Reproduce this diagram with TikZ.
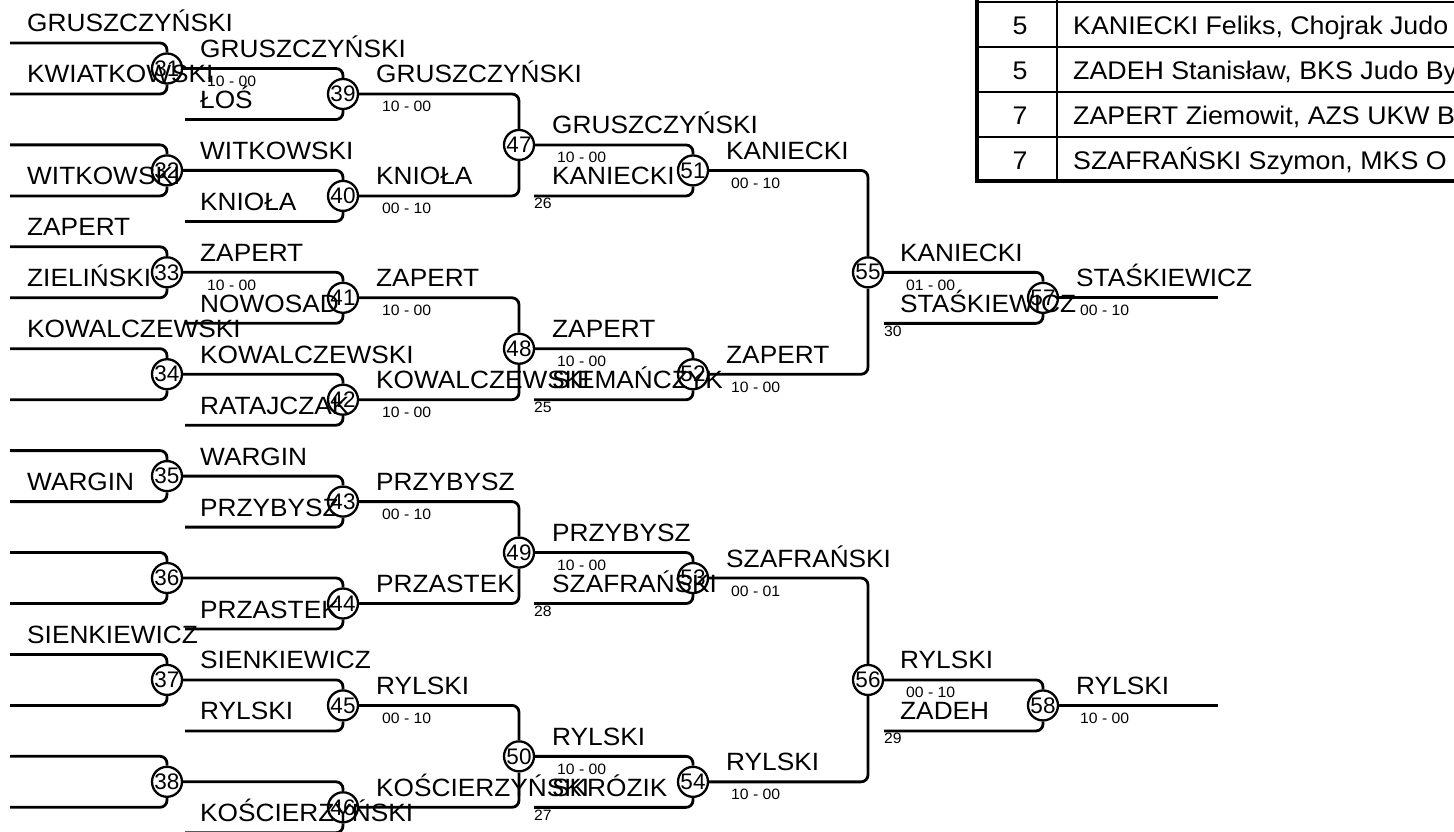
\documentclass[tikz,border=0pt]{standalone}
\usepackage{fontspec}
\newfontfamily\brFam[FakeStretch=1.05]{Liberation Sans}
\newfontfamily\brPlain{Liberation Sans}
\newcommand\brName{\brFam\fontsize{25}{30}\selectfont}
\newcommand\brScore{\brFam\fontsize{15}{18}\selectfont}
\newcommand\brNum{\brPlain\fontsize{22.5}{26}\selectfont}
\newcommand\brTab{\brFam\fontsize{25.5}{30}\selectfont}
\begin{document}
\begin{tikzpicture}[x=1pt,y=-1pt,
 br/.style={line width=2.8pt, rounded corners=7pt},
 mc/.style={circle, draw, line width=2.3pt, fill=white, minimum size=30pt, inner sep=0pt, font=\brNum},
 nm/.style={anchor=base west, inner sep=0pt, font=\brName},
 sc/.style={anchor=base west, inner sep=0pt, font=\brScore},
 tl/.style={line width=2pt},
 tb/.style={line width=4.5pt, line join=miter},
 tt/.style={anchor=base west, inner sep=0pt, font=\brTab},
 tn/.style={anchor=base, inner sep=0pt, font=\brTab}]
\useasboundingbox (0,0) rectangle (1454,832);
\fill[white] (0,0) rectangle (1454,832);

% ---------- circles ----------
\node[mc] (m31) at (167,68.5) {31};
\node[mc] (m32) at (167,170.4) {32};
\node[mc] (m33) at (167,272.3) {33};
\node[mc] (m34) at (167,374.2) {34};
\node[mc] (m35) at (167,476.1) {35};
\node[mc] (m36) at (167,578) {36};
\node[mc] (m37) at (167,679.9) {37};
\node[mc] (m38) at (167,781.8) {38};
\node[mc] (m39) at (343,94) {39};
\node[mc] (m40) at (343,195.9) {40};
\node[mc] (m41) at (343,297.8) {41};
\node[mc] (m42) at (343,399.7) {42};
\node[mc] (m43) at (343,501.6) {43};
\node[mc] (m44) at (343,603.5) {44};
\node[mc] (m45) at (343,705.4) {45};
\node[mc] (m46) at (343,807.3) {46};
\node[mc] (m47) at (519,144.95) {47};
\node[mc] (m48) at (519,348.75) {48};
\node[mc] (m49) at (519,552.55) {49};
\node[mc] (m50) at (519,756.35) {50};
\node[mc] (m51) at (693,170.45) {51};
\node[mc] (m52) at (693,374.25) {52};
\node[mc] (m53) at (693,578.05) {53};
\node[mc] (m54) at (693,781.85) {54};
\node[mc] (m55) at (868,272.35) {55};
\node[mc] (m56) at (868,679.95) {56};
\node[mc] (m57) at (1043,297.85) {57};
\node[mc] (m58) at (1043,705.45) {58};

% ---------- free line ends ----------
\coordinate (a31) at (10,43);    \coordinate (b31) at (10,94);
\coordinate (a32) at (10,144.9); \coordinate (b32) at (10,195.9);
\coordinate (a33) at (10,246.8); \coordinate (b33) at (10,297.8);
\coordinate (a34) at (10,348.7); \coordinate (b34) at (10,399.7);
\coordinate (a35) at (10,450.6); \coordinate (b35) at (10,501.6);
\coordinate (a36) at (10,552.5); \coordinate (b36) at (10,603.5);
\coordinate (a37) at (10,654.4); \coordinate (b37) at (10,705.4);
\coordinate (a38) at (10,756.3); \coordinate (b38) at (10,807.3);
\coordinate (b39) at (185,119.5);
\coordinate (b40) at (185,221.4);
\coordinate (b41) at (185,323.3);
\coordinate (b42) at (185,425.2);
\coordinate (b43) at (185,527.1);
\coordinate (b44) at (185,629);
\coordinate (b45) at (185,730.9);
\coordinate (b46) at (185,832.8);
\coordinate (b51) at (534,195.95);
\coordinate (b52) at (534,399.75);
\coordinate (b53) at (534,603.55);
\coordinate (b54) at (534,807.35);
\coordinate (b57) at (884,323.35);
\coordinate (b58) at (884,730.95);
\coordinate (f57) at (1218,297.85);
\coordinate (f58) at (1218,705.45);

% ---------- connectors ----------
\foreach \m in {31,...,38}{
  \draw[br] (a\m) -| (m\m.north);
  \draw[br] (b\m) -| (m\m.south);
}
\draw[br] (m31.east) -| (m39.north); \draw[br] (b39) -| (m39.south);
\draw[br] (m32.east) -| (m40.north); \draw[br] (b40) -| (m40.south);
\draw[br] (m33.east) -| (m41.north); \draw[br] (b41) -| (m41.south);
\draw[br] (m34.east) -| (m42.north); \draw[br] (b42) -| (m42.south);
\draw[br] (m35.east) -| (m43.north); \draw[br] (b43) -| (m43.south);
\draw[br] (m36.east) -| (m44.north); \draw[br] (b44) -| (m44.south);
\draw[br] (m37.east) -| (m45.north); \draw[br] (b45) -| (m45.south);
\draw[br] (m38.east) -| (m46.north); \draw[br] (b46) -| (m46.south);
\draw[br] (m39.east) -| (m47.north); \draw[br] (m40.east) -| (m47.south);
\draw[br] (m41.east) -| (m48.north); \draw[br] (m42.east) -| (m48.south);
\draw[br] (m43.east) -| (m49.north); \draw[br] (m44.east) -| (m49.south);
\draw[br] (m45.east) -| (m50.north); \draw[br] (m46.east) -| (m50.south);
\draw[br] (m47.east) -| (m51.north); \draw[br] (b51) -| (m51.south);
\draw[br] (m48.east) -| (m52.north); \draw[br] (b52) -| (m52.south);
\draw[br] (m49.east) -| (m53.north); \draw[br] (b53) -| (m53.south);
\draw[br] (m50.east) -| (m54.north); \draw[br] (b54) -| (m54.south);
\draw[br] (m51.east) -| (m55.north); \draw[br] (m52.east) -| (m55.south);
\draw[br] (m53.east) -| (m56.north); \draw[br] (m54.east) -| (m56.south);
\draw[br] (m55.east) -| (m57.north); \draw[br] (b57) -| (m57.south);
\draw[br] (m56.east) -| (m58.north); \draw[br] (b58) -| (m58.south);
\draw[br] (m57.east) -- (f57);
\draw[br] (m58.east) -- (f58);

% ---------- round 1 names ----------
\node[nm] (n1a) at (27,32) {GRUSZCZYŃSKI};
\node[nm] (n1b) at (27,83) {KWIATKOWSKI};
\node[nm] (n1c) at (27,184.9) {WITKOWSKI};
\node[nm] (n1d) at (27,235.8) {ZAPERT};
\node[nm] (n1e) at (27,286.8) {ZIELIŃSKI};
\node[nm] (n1f) at (27,337.7) {KOWALCZEWSKI};
\node[nm] (n1g) at (27,490.6) {WARGIN};
\node[nm] (n1h) at (27,643.4) {SIENKIEWICZ};

% ---------- round 2 names ----------
\node[nm] (n2a) at (200,57.5) {GRUSZCZYŃSKI};
\node[nm] (n2b) at (200,108.5) {ŁOŚ};
\node[nm] (n2c) at (200,159.4) {WITKOWSKI};
\node[nm] (n2d) at (200,210.4) {KNIOŁA};
\node[nm] (n2e) at (200,261.3) {ZAPERT};
\node[nm] (n2f) at (200,312.3) {NOWOSAD};
\node[nm] (n2g) at (200,363.2) {KOWALCZEWSKI};
\node[nm] (n2h) at (200,414.2) {RATAJCZAK};
\node[nm] (n2i) at (200,465.1) {WARGIN};
\node[nm] (n2j) at (200,516.1) {PRZYBYSZ};
\node[nm] (n2k) at (200,618) {PRZASTEK};
\node[nm] (n2l) at (200,668.9) {SIENKIEWICZ};
\node[nm] (n2m) at (200,719.9) {RYLSKI};
\node[nm] (n2n) at (200,821.8) {KOŚCIERZYŃSKI};
\node[sc] (s2a) at (207,86.5) {10 - 00};
\node[sc] (s2b) at (207,290.3) {10 - 00};

% ---------- round 3 names ----------
\node[nm] (n3a) at (376,83) {GRUSZCZYŃSKI};
\node[nm] (n3b) at (376,184.9) {KNIOŁA};
\node[nm] (n3c) at (376,286.8) {ZAPERT};
\node[nm] (n3d) at (376,388.7) {KOWALCZEWSKI};
\node[nm] (n3e) at (376,490.6) {PRZYBYSZ};
\node[nm] (n3f) at (376,592.5) {PRZASTEK};
\node[nm] (n3g) at (376,694.4) {RYLSKI};
\node[nm] (n3h) at (376,796.3) {KOŚCIERZYŃSKI};
\node[sc] (s3a) at (382,112) {10 - 00};
\node[sc] (s3b) at (382,213.9) {00 - 10};
\node[sc] (s3c) at (382,315.8) {10 - 00};
\node[sc] (s3d) at (382,417.7) {10 - 00};
\node[sc] (s3e) at (382,519.6) {00 - 10};
\node[sc] (s3f) at (382,723.4) {00 - 10};

% ---------- round 4 names ----------
\node[nm] (n4a) at (552,133.95) {GRUSZCZYŃSKI};
\node[nm] (n4b) at (552,184.95) {KANIECKI};
\node[nm] (n4c) at (552,337.75) {ZAPERT};
\node[nm] (n4d) at (552,388.75) {SIEMAŃCZYK};
\node[nm] (n4e) at (552,541.55) {PRZYBYSZ};
\node[nm] (n4f) at (552,592.55) {SZAFRAŃSKI};
\node[nm] (n4g) at (552,745.35) {RYLSKI};
\node[nm] (n4h) at (552,796.35) {SKRÓZIK};
\node[sc] (s4a) at (557,162.95) {10 - 00};
\node[sc] (s4b) at (557,366.75) {10 - 00};
\node[sc] (s4c) at (557,570.55) {10 - 00};
\node[sc] (s4d) at (557,774.35) {10 - 00};
\node[sc] (e26) at (534,208.95) {26};
\node[sc] (e25) at (534,412.75) {25};
\node[sc] (e28) at (534,616.55) {28};
\node[sc] (e27) at (534,820.35) {27};

% ---------- round 5 names ----------
\node[nm] (n5a) at (726,159.45) {KANIECKI};
\node[nm] (n5b) at (726,363.25) {ZAPERT};
\node[nm] (n5c) at (726,567.05) {SZAFRAŃSKI};
\node[nm] (n5d) at (726,770.85) {RYLSKI};
\node[sc] (s5a) at (731,188.45) {00 - 10};
\node[sc] (s5b) at (731,392.25) {10 - 00};
\node[sc] (s5c) at (731,596.05) {00 - 01};
\node[sc] (s5d) at (731,799.85) {10 - 00};

% ---------- round 6 names ----------
\node[nm] (n6a) at (900,261.35) {KANIECKI};
\node[nm] (n6b) at (900,312.35) {STAŚKIEWICZ};
\node[nm] (n6c) at (900,668.95) {RYLSKI};
\node[nm] (n6d) at (900,719.95) {ZADEH};
\node[sc] (s6a) at (906,290.35) {01 - 00};
\node[sc] (s6b) at (906,697.95) {00 - 10};
\node[sc] (e30) at (884,336.35) {30};
\node[sc] (e29) at (884,743.95) {29};

% ---------- final ----------
\node[nm] (n7a) at (1076,286.85) {STAŚKIEWICZ};
\node[nm] (n7b) at (1076,694.45) {RYLSKI};
\node[sc] (s7a) at (1080,315.85) {00 - 10};
\node[sc] (s7b) at (1080,723.45) {10 - 00};

% ---------- table ----------
\begin{scope}
\clip (0,0) rectangle (1454,832);
\fill[white] (977,-10) rectangle (1470,181);
\draw[tl] (977,2) -- (1470,2);
\draw[tl] (977,47) -- (1470,47);
\draw[tl] (977,92) -- (1470,92);
\draw[tl] (977,137) -- (1470,137);
\draw[tl] (1057,-10) -- (1057,181);
\draw[tb] (977,-10) -- (977,181) -- (1470,181);
\node[tn] (r1n) at (1020,35) {5};
\node[tn] (r2n) at (1020,80) {5};
\node[tn] (r3n) at (1020,125) {7};
\node[tn] (r4n) at (1020,170) {7};
\node[tt] (r1t) at (1073,35) {KANIECKI Feliks, Chojrak Judo};
\node[tt] (r2t) at (1073,80) {ZADEH Stanisław, BKS Judo By};
\node[tt] (r3t) at (1073,125) {ZAPERT Ziemowit, AZS UKW B};
\node[tt] (r4t) at (1073,170) {SZAFRAŃSKI Szymon, MKS O};
\end{scope}
\end{tikzpicture}
\end{document}
